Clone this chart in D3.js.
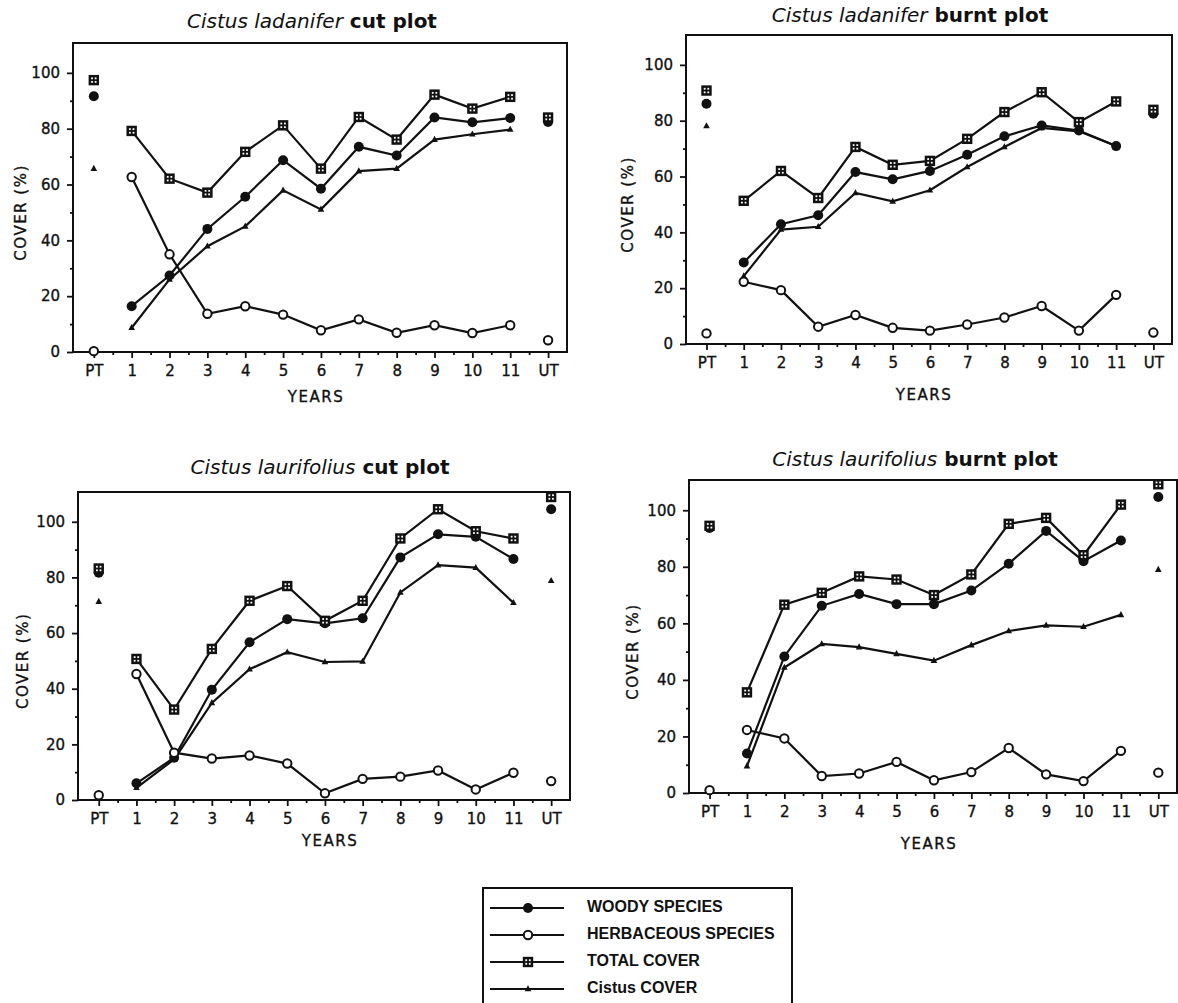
<!DOCTYPE html>
<html lang="en">
<head>
  <meta charset="utf-8" />
  <title>Cistus cover after treatment</title>
  <script src="https://d3js.org/d3.v7.min.js" charset="utf-8"></script>
  <style>
body {
  margin: 0;
  background-color: #fff;
}
svg {
  display: block;
}
.tick text {
  font-family: 'DejaVu Sans', sans-serif;
  font-size: 15px;
  fill: #111;
  stroke: #111;
  stroke-width: 0.35px;
}
.tick line {
  stroke: #111;
  stroke-width: 1.8px;
}
.frame {
  fill: none;
  stroke: #111;
  stroke-width: 2px;
}
.series {
  fill: none;
  stroke: #111;
  stroke-width: 2.2px;
}
.title {
  font-family: 'DejaVu Sans', sans-serif;
  font-size: 20px;
  fill: #111;
}
.label {
  font-family: 'DejaVu Sans', sans-serif;
  font-size: 15px;
  letter-spacing: 1.5px;
  fill: #111;
  stroke: #111;
  stroke-width: 0.35px;
}
.legend text {
  font-family: 'Liberation Sans', sans-serif;
  font-size: 16px;
  font-weight: bold;
  fill: #111;
}
</style>
</head>
<body>
  <svg width="1178" height="1003"></svg>

  <script>
    var years = ['PT', '1', '2', '3', '4', '5', '6', '7', '8', '9', '10', '11', 'UT'];
    var yMajor = [0, 20, 40, 60, 80, 100];
    var yMinor = [10, 30, 50, 70, 90];

    // Cistus ladanifer, cut
    var ladCutWoody = [91.6, 16.4, 27.4, 44.1, 55.6, 68.7, 58.5, 73.5, 70.4, 84.0, 82.3, 83.8, 82.4];
    var ladCutHerb = [0.3, 62.7, 35.0, 13.7, 16.4, 13.4, 7.8, 11.7, 6.9, 9.6, 6.8, 9.6, 4.2];
    var ladCutTotal = [97.4, 79.2, 62.1, 57.1, 71.7, 81.2, 65.7, 84.2, 76.1, 92.2, 87.2, 91.4, 84.0];
    var ladCutCistus = [65.7, 8.7, 26.0, 37.9, 45.0, 57.9, 51.1, 64.8, 65.7, 76.1, 78.0, 79.7, null];

    // Cistus ladanifer, burnt
    var ladBurntWoody = [86.1, 29.2, 42.9, 46.1, 61.6, 59.0, 62.0, 67.8, 74.4, 78.3, 76.5, 70.9, 82.5];
    var ladBurntHerb = [3.8, 22.3, 19.3, 6.2, 10.4, 5.8, 4.8, 7.0, 9.5, 13.6, 4.8, 17.6, 4.1];
    var ladBurntTotal = [90.8, 51.3, 62.0, 52.3, 70.6, 64.2, 65.6, 73.5, 83.1, 90.2, 79.5, 86.9, 83.9];
    var ladBurntCistus = [78.1, 24.3, 41.0, 42.0, 54.1, 51.1, 55.1, 63.4, 70.6, 77.4, 76.2, 70.9, null];

    // Cistus laurifolius, cut
    var laurCutWoody = [81.7, 6.0, 15.2, 39.6, 56.7, 65.0, 63.5, 65.3, 87.2, 95.5, 94.6, 86.6, 104.5];
    var laurCutHerb = [1.7, 45.3, 17.0, 14.9, 16.0, 13.1, 2.4, 7.6, 8.4, 10.6, 3.8, 9.8, 6.8];
    var laurCutTotal = [83.2, 50.7, 32.5, 54.3, 71.6, 76.9, 64.4, 71.6, 94.0, 104.5, 96.6, 94.0, 108.9];
    var laurCutCistus = [71.3, 4.4, 14.6, 34.9, 47.0, 53.1, 49.6, 49.8, 74.6, 84.4, 83.5, 70.9, 78.8];

    // Cistus laurifolius, burnt
    var laurBurntWoody = [93.7, 14.0, 48.3, 66.2, 70.4, 66.8, 66.8, 71.6, 81.1, 92.7, 82.0, 89.3, 104.7];
    var laurBurntHerb = [1.0, 22.3, 19.3, 6.0, 6.9, 11.0, 4.5, 7.4, 15.9, 6.6, 4.2, 14.9, 7.2];
    var laurBurntTotal = [94.5, 35.6, 66.6, 70.8, 76.6, 75.5, 70.0, 77.3, 95.2, 97.3, 84.1, 102.0, 109.2];
    var laurBurntCistus = [null, 9.5, 44.4, 52.7, 51.6, 49.2, 46.8, 52.3, 57.3, 59.3, 58.8, 63.0, 79.0];

    var seriesNames = ['WOODY SPECIES', 'HERBACEOUS SPECIES', 'TOTAL COVER', 'Cistus COVER'];

    var panels = [
      { species: 'Cistus ladanifer', plot: ' cut plot', box: [73, 567, 43, 352], titleX: 312, titleY: 28, yearsX: 316, yearsY: 402, coverX: 21,
        woody: ladCutWoody, herb: ladCutHerb, total: ladCutTotal, cistus: ladCutCistus },
      { species: 'Cistus ladanifer', plot: ' burnt plot', box: [686, 1172, 35, 344], titleX: 910, titleY: 22, yearsX: 924, yearsY: 400, coverX: 628,
        woody: ladBurntWoody, herb: ladBurntHerb, total: ladBurntTotal, cistus: ladBurntCistus },
      { species: 'Cistus laurifolius', plot: ' cut plot', box: [78, 570, 492, 800], titleX: 320, titleY: 474, yearsX: 330, yearsY: 846, coverX: 23,
        woody: laurCutWoody, herb: laurCutHerb, total: laurCutTotal, cistus: laurCutCistus },
      { species: 'Cistus laurifolius', plot: ' burnt plot', box: [689, 1177, 480, 793], titleX: 915, titleY: 466, yearsX: 929, yearsY: 849, coverX: 633,
        woody: laurBurntWoody, herb: laurBurntHerb, total: laurBurntTotal, cistus: laurBurntCistus }
    ];

    var svg = d3.select('svg');

    // marker shapes
    function drawMarker(g, kind) {
      if (kind === 'woody') {
        g.append('circle').attr('r', 5).attr('fill', '#111');
      } else if (kind === 'herb') {
        g.append('circle').attr('r', 4.2).attr('fill', '#fff').attr('stroke', '#111').attr('stroke-width', 2);
      } else if (kind === 'total') {
        g.append('rect').attr('x', -5.2).attr('y', -5.2).attr('width', 10.4).attr('height', 10.4).attr('fill', '#111');
        [[-2.7, -2.7], [0.9, -2.7], [-2.7, 0.9], [0.9, 0.9]].forEach(function (d) {
          g.append('rect').attr('x', d[0]).attr('y', d[1]).attr('width', 1.8).attr('height', 1.8).attr('fill', '#fff');
        });
      } else {
        g.append('path').attr('d', 'M0,-3.8L3.3,2.3L-3.3,2.3Z').attr('fill', '#111');
      }
    }

    panels.forEach(function (p) {
      var left = p.box[0], right = p.box[1], top = p.box[2], bottom = p.box[3];

      var xScale = d3.scaleLinear().domain([-0.55, 12.5]).range([left, right]);
      var yScale = d3.scaleLinear().domain([0, 110.7]).range([bottom, top]);

      var chart = svg.append('g');

      chart.append('g')
        .attr('transform', `translate(0, ${bottom})`)
        .call(d3.axisBottom(xScale).tickValues(d3.range(13)).tickFormat(function (i) { return years[i]; }).tickSize(6).tickPadding(7))
        .call(function (g) { g.select('.domain').remove(); });

      chart.append('g')
        .attr('transform', `translate(0, ${bottom})`)
        .call(d3.axisBottom(xScale).tickValues(d3.range(0.5, 12, 1)).tickFormat('').tickSize(3))
        .call(function (g) { g.select('.domain').remove(); });

      chart.append('g')
        .attr('transform', `translate(${left}, 0)`)
        .call(d3.axisLeft(yScale).tickValues(yMajor).tickSize(6).tickPadding(7))
        .call(function (g) { g.select('.domain').remove(); });

      chart.append('g')
        .attr('transform', `translate(${left}, 0)`)
        .call(d3.axisLeft(yScale).tickValues(yMinor).tickFormat('').tickSize(3))
        .call(function (g) { g.select('.domain').remove(); });

      chart.selectAll('.tick text').attr('font-size', null).attr('font-family', null);

      chart.append('rect')
        .attr('class', 'frame')
        .attr('x', left)
        .attr('y', top)
        .attr('width', right - left)
        .attr('height', bottom - top);

      var title = chart.append('text')
        .attr('class', 'title')
        .attr('x', p.titleX)
        .attr('y', p.titleY)
        .attr('text-anchor', 'middle');
      title.append('tspan').attr('font-style', 'italic').text(p.species);
      title.append('tspan').attr('font-weight', 'bold').text(p.plot);

      chart.append('text')
        .attr('class', 'label')
        .attr('x', p.yearsX)
        .attr('y', p.yearsY)
        .attr('text-anchor', 'middle')
        .text('YEARS');

      chart.append('text')
        .attr('class', 'label')
        .attr('transform', `translate(${p.coverX}, ${yScale(50)}) rotate(-90)`)
        .attr('text-anchor', 'middle')
        .attr('dominant-baseline', 'middle')
        .text('COVER (%)');

      var kinds = [['cistus', p.cistus], ['woody', p.woody], ['herb', p.herb], ['total', p.total]];

      // treatment years 1..11 are joined, PT and UT stand alone
      var line = d3.line()
        .defined(function (d, i) { return i >= 1 && i <= 11 && d != null; })
        .x(function (d, i) { return xScale(i); })
        .y(function (d) { return yScale(d); });

      kinds.forEach(function (k) {
        chart.append('path')
          .attr('class', 'series')
          .attr('d', line(k[1]));
      });

      kinds.forEach(function (k) {
        k[1].forEach(function (v, i) {
          if (v == null) return;
          var g = chart.append('g').attr('transform', `translate(${xScale(i)}, ${yScale(v)})`);
          drawMarker(g, k[0]);
        });
      });
    });

    // legend
    var legend = svg.append('g').attr('class', 'legend');
    legend.append('rect')
      .attr('class', 'frame')
      .attr('x', 483)
      .attr('y', 888)
      .attr('width', 309)
      .attr('height', 140);

    var legendKinds = ['woody', 'herb', 'total', 'cistus'];
    var rowY = d3.scalePoint().domain(seriesNames).range([908, 989]);

    seriesNames.forEach(function (name, i) {
      var yy = rowY(name);
      legend.append('line')
        .attr('x1', 490).attr('x2', 564)
        .attr('y1', yy).attr('y2', yy)
        .attr('stroke', '#111').attr('stroke-width', 2);
      drawMarker(legend.append('g').attr('transform', `translate(528, ${yy})`), legendKinds[i]);
      legend.append('text')
        .attr('x', 587)
        .attr('y', yy)
        .attr('dominant-baseline', 'middle')
        .text(name);
    });
  </script>
</body>
</html>
